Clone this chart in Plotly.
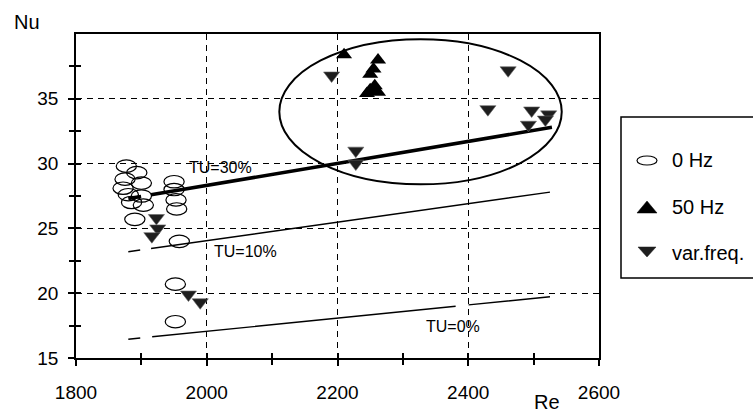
import plotly.graph_objects as go

# ---------------- data ----------------
re_0hz = [1877, 1893, 1875, 1900, 1872, 1880, 1900, 1885, 1903, 1890,
          1950, 1950, 1953, 1954, 1958, 1952, 1952]
nu_0hz = [29.8, 29.3, 28.8, 28.5, 28.1, 27.6, 27.5, 27.0, 26.8, 25.7,
          28.6, 28.0, 27.2, 26.5, 24.0, 20.7, 17.8]

re_50hz = [2210, 2262, 2255, 2250, 2257, 2250, 2245, 2262]
nu_50hz = [38.4, 38.0, 37.3, 36.9, 36.0, 35.7, 35.4, 35.5]

re_var = [1923, 1925, 1916, 1972, 1990, 2191, 2228, 2228,
          2430, 2461, 2497, 2492, 2523, 2518]
nu_var = [25.8, 25.0, 24.4, 19.9, 19.3, 36.8, 31.0, 30.0,
          34.2, 37.2, 34.1, 33.0, 33.8, 33.4]

tu_labels = ["TU=30%", "TU=10%", "TU=0%"]
tu_re = [[1880, 2528], [1880, 2525], [1880, 2525]]
tu_nu = [[27.3, 32.8], [23.2, 27.8], [16.45, 19.73]]
tu_label_re = [1970, 2008, 2332]
tu_label_nu = [29.7, 23.2, 17.4]

ellipse_re = [2111, 2543]
ellipse_nu = [28.4, 39.6]

x_ticks = [1800, 2000, 2200, 2400, 2600]
x_minor = [1900, 2100, 2300, 2500]
y_ticks = [15, 20, 25, 30, 35]
y_all = [15, 17.5, 20, 22.5, 25, 27.5, 30, 32.5, 35, 37.5]
legend_labels = ["0 Hz", "50 Hz", "var.freq."]
x_title = "Re"
y_title = "Nu"

# ---------------- styling ----------------
FONT = "Liberation Sans, Arial, sans-serif"
W, H = 753, 415
ML, MR, MT, MB = 76, 154, 34, 57
PW, PH = W - ML - MR, H - MT - MB


def px(xp):
    return (xp - ML) / PW


def py(yp):
    return (H - MB - yp) / PH


fig = go.Figure()

# TU correlation lines
tu_width = [3.5, 1.4, 1.4]
tu_dash = ["13px,10px,430px", "12px,11px,420px", "12px,12px,305px,13px,90px"]
for i in range(3):
    fig.add_trace(go.Scatter(
        x=tu_re[i], y=tu_nu[i], mode="lines",
        line=dict(color="black", width=tu_width[i], dash=tu_dash[i]),
        showlegend=False, hoverinfo="skip"))
    fig.add_annotation(x=tu_label_re[i], y=tu_label_nu[i], text=tu_labels[i],
                       showarrow=False, xanchor="left", yanchor="middle",
                       font=dict(family=FONT, size=16, color="black"))

# 0 Hz as open ellipses (sized in data units through the axes)
half_w = 15.5
half_h = 0.48
for r, n in zip(re_0hz, nu_0hz):
    fig.add_shape(type="circle", xref="x", yref="y",
                  x0=r - half_w, x1=r + half_w, y0=n - half_h, y1=n + half_h,
                  line=dict(color="black", width=1.2),
                  fillcolor="rgba(0,0,0,0)", layer="above")

fig.add_trace(go.Scatter(x=re_50hz, y=nu_50hz, mode="markers", name=legend_labels[1],
                         marker=dict(symbol="triangle-up", size=14, color="black"),
                         showlegend=False))
fig.add_trace(go.Scatter(x=re_var, y=nu_var, mode="markers", name=legend_labels[2],
                         marker=dict(symbol="triangle-down", size=14, color="#1e1e1e",
                                     line=dict(color="#666", width=0.6)),
                         showlegend=False))

# big ellipse
fig.add_shape(type="circle", xref="x", yref="y",
              x0=ellipse_re[0], x1=ellipse_re[1], y0=ellipse_nu[0], y1=ellipse_nu[1],
              line=dict(color="black", width=2), fillcolor="rgba(0,0,0,0)", layer="above")

# dummy trace for overlay axes (inside ticks)
fig.add_trace(go.Scatter(x=[None], y=[None], xaxis="x2", yaxis="y2",
                         showlegend=False, hoverinfo="skip"))

# ---------------- manual legend ----------------
fig.add_shape(type="rect", xref="paper", yref="paper",
              x0=px(621), x1=px(770), y0=py(278), y1=py(117),
              line=dict(color="black", width=1.5), fillcolor="white", layer="above")
# ellipse symbol
fig.add_shape(type="circle", xref="paper", yref="paper",
              x0=px(637), x1=px(657), y0=py(165), y1=py(156),
              line=dict(color="black", width=1.2), layer="above")
# triangle up symbol
cx, cy = 647, 207
fig.add_shape(type="path", xref="paper", yref="paper",
              path=f"M {px(cx-10)},{py(cy+6)} L {px(cx+10)},{py(cy+6)} L {px(cx)},{py(cy-6)} Z",
              fillcolor="black", line=dict(color="black", width=0.5), layer="above")
# triangle down symbol
cx, cy = 647, 252
fig.add_shape(type="path", xref="paper", yref="paper",
              path=f"M {px(cx-9)},{py(cy-5)} L {px(cx+9)},{py(cy-5)} L {px(cx)},{py(cy+5)} Z",
              fillcolor="#1e1e1e", line=dict(color="#1e1e1e", width=0.5), layer="above")
for lab, yy in zip(legend_labels, [160, 207, 253]):
    fig.add_annotation(xref="paper", yref="paper", x=px(670), y=py(yy), text=lab,
                       showarrow=False, xanchor="left", yanchor="middle",
                       font=dict(family=FONT, size=20, color="black"))

# axis titles
fig.add_annotation(xref="paper", yref="paper", x=px(12), y=py(22), text=y_title,
                   showarrow=False, xanchor="left", yanchor="middle",
                   font=dict(family=FONT, size=20, color="black"))
fig.add_annotation(xref="paper", yref="paper", x=px(532), y=py(402), text=x_title,
                   showarrow=False, xanchor="left", yanchor="middle",
                   font=dict(family=FONT, size=20, color="black"))

grid = dict(showgrid=True, gridcolor="black", gridwidth=1.2, griddash="6px,5px")

fig.update_layout(
    width=W, height=H,
    margin=dict(l=ML, r=MR, t=MT, b=MB, pad=0),
    paper_bgcolor="white", plot_bgcolor="white",
    font=dict(family=FONT, size=19, color="black"),
    showlegend=False,
    xaxis=dict(range=[1800, 2600], tickvals=x_ticks, ticks="outside", ticklen=6,
               tickcolor="black", tickwidth=1.5,
               minor=dict(tickvals=x_minor, ticks="outside", ticklen=5,
                          tickcolor="black", tickwidth=1.5, showgrid=False),
               showline=True, linecolor="black", linewidth=1.8, mirror=True,
               zeroline=False, ticklabelstandoff=10, **grid),
    yaxis=dict(range=[15, 40], tickvals=y_ticks, ticks="outside", ticklen=6,
               tickcolor="black", tickwidth=1.5,
               minor=dict(tickvals=[17.5, 22.5, 27.5, 32.5, 37.5], ticks="outside",
                          ticklen=5, tickcolor="black", tickwidth=1.5, showgrid=False),
               showline=True, linecolor="black", linewidth=1.8, mirror=True,
               zeroline=False, ticklabelstandoff=6, **grid),
    xaxis2=dict(range=[1800, 2600], overlaying="x", anchor="y", side="bottom",
                tickvals=x_ticks + x_minor, ticks="inside", ticklen=5,
                tickcolor="black", tickwidth=1.5, showticklabels=False,
                showgrid=False, showline=False, zeroline=False),
    yaxis2=dict(range=[15, 40], overlaying="y", anchor="x", side="left",
                tickvals=y_all, ticks="inside", ticklen=5,
                tickcolor="black", tickwidth=1.5, showticklabels=False,
                showgrid=False, showline=False, zeroline=False),
)

fig.write_html("out.html")
